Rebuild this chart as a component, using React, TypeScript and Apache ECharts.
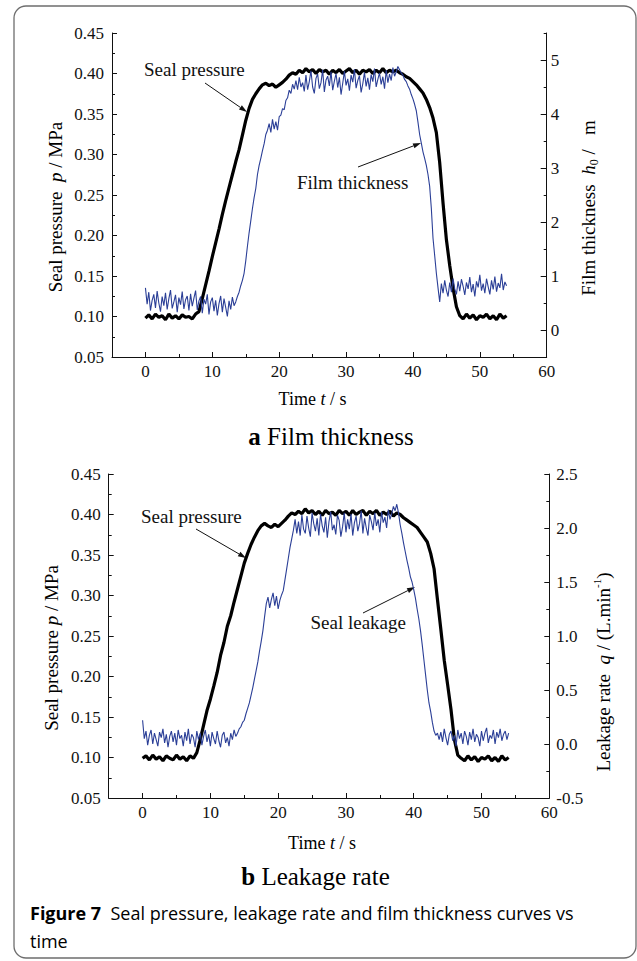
import React, { useEffect, useRef } from 'react';
import * as echarts from 'echarts';

// ---------- data ----------
// time axis for the seal-pressure curves (s)
const time = [
  0, 0.5, 1, 1.5, 2, 2.5, 3, 3.5, 4, 4.5, 5, 5.5, 6, 6.5, 7, 7.5, 8, 8.5, 9, 9.5,
  10, 10.5, 11, 11.5, 12, 12.5, 13, 13.5, 14, 14.5, 15, 15.5, 16, 16.5, 17, 17.5, 18, 18.5, 19, 19.5,
  20, 20.5, 21, 21.5, 22, 22.5, 23, 23.5, 24, 24.5, 25, 25.5, 26, 26.5, 27, 27.5, 28, 28.5, 29, 29.5,
  30, 30.5, 31, 31.5, 32, 32.5, 33, 33.5, 34, 34.5, 35, 35.5, 36, 36.5, 37, 37.5, 38, 38.5, 39, 39.5,
  40, 40.5, 41, 41.5, 42, 42.5, 43, 43.5, 44, 44.5, 45, 45.5, 46, 46.5, 47, 47.5, 48, 48.5, 49, 49.5,
  50, 50.5, 51, 51.5, 52, 52.5, 53, 53.5, 54,
];

// finer time axis for the (noisier) film-thickness and leakage curves (s)
const timeFine = [
  0, 0.25, 0.5, 0.75, 1, 1.25, 1.5, 1.75, 2, 2.25, 2.5, 2.75, 3, 3.25, 3.5, 3.75, 4, 4.25, 4.5, 4.75,
  5, 5.25, 5.5, 5.75, 6, 6.25, 6.5, 6.75, 7, 7.25, 7.5, 7.75, 8, 8.25, 8.5, 8.75, 9, 9.25, 9.5, 9.75,
  10, 10.25, 10.5, 10.75, 11, 11.25, 11.5, 11.75, 12, 12.25, 12.5, 12.75, 13, 13.25, 13.5, 13.75, 14, 14.25, 14.5, 14.75,
  15, 15.25, 15.5, 15.75, 16, 16.25, 16.5, 16.75, 17, 17.25, 17.5, 17.75, 18, 18.25, 18.5, 18.75, 19, 19.25, 19.5, 19.75,
  20, 20.25, 20.5, 20.75, 21, 21.25, 21.5, 21.75, 22, 22.25, 22.5, 22.75, 23, 23.25, 23.5, 23.75, 24, 24.25, 24.5, 24.75,
  25, 25.25, 25.5, 25.75, 26, 26.25, 26.5, 26.75, 27, 27.25, 27.5, 27.75, 28, 28.25, 28.5, 28.75, 29, 29.25, 29.5, 29.75,
  30, 30.25, 30.5, 30.75, 31, 31.25, 31.5, 31.75, 32, 32.25, 32.5, 32.75, 33, 33.25, 33.5, 33.75, 34, 34.25, 34.5, 34.75,
  35, 35.25, 35.5, 35.75, 36, 36.25, 36.5, 36.75, 37, 37.25, 37.5, 37.75, 38, 38.25, 38.5, 38.75, 39, 39.25, 39.5, 39.75,
  40, 40.25, 40.5, 40.75, 41, 41.25, 41.5, 41.75, 42, 42.25, 42.5, 42.75, 43, 43.25, 43.5, 43.75, 44, 44.25, 44.5, 44.75,
  45, 45.25, 45.5, 45.75, 46, 46.25, 46.5, 46.75, 47, 47.25, 47.5, 47.75, 48, 48.25, 48.5, 48.75, 49, 49.25, 49.5, 49.75,
  50, 50.25, 50.5, 50.75, 51, 51.25, 51.5, 51.75, 52, 52.25, 52.5, 52.75, 53, 53.25, 53.5, 53.75, 54,
];

// (a) seal pressure, MPa (on `time`)
const sealPressureA = [
  0.098, 0.102, 0.097, 0.103, 0.099, 0.101, 0.096, 0.103, 0.098, 0.101, 0.097, 0.102, 0.099, 0.100, 0.097, 0.103,
  0.106, 0.122, 0.139, 0.156, 0.174, 0.191, 0.208, 0.226, 0.243, 0.259, 0.275, 0.291, 0.306, 0.324, 0.342, 0.357, 0.368, 0.375,
  0.381, 0.386, 0.388, 0.385, 0.387, 0.383, 0.386, 0.389, 0.393, 0.398, 0.401, 0.399, 0.404, 0.401,
  0.406, 0.402, 0.405, 0.400, 0.405, 0.402, 0.404, 0.399, 0.404, 0.401, 0.405, 0.400, 0.403, 0.406, 0.401,
  0.404, 0.399, 0.404, 0.402, 0.405, 0.400, 0.404, 0.401, 0.406, 0.401, 0.404, 0.402, 0.404, 0.401,
  0.399, 0.396, 0.394, 0.390, 0.386, 0.381, 0.376, 0.368, 0.358, 0.345, 0.327, 0.290, 0.240, 0.195, 0.163, 0.135, 0.112,
  0.101, 0.097, 0.103, 0.098, 0.102, 0.096, 0.101, 0.099, 0.103, 0.097, 0.101, 0.096, 0.103, 0.098, 0.101,
];

// (a) film thickness h0, um (on `timeFine`)
const filmThickness = [
  0.78, 0.48, 0.70, 0.36, 0.55, 0.66, 0.41, 0.72, 0.50, 0.34, 0.62, 0.45, 0.69, 0.38,
  0.58, 0.74, 0.40, 0.52, 0.65, 0.33, 0.60, 0.47, 0.71, 0.39, 0.56, 0.63, 0.36, 0.67,
  0.44, 0.59, 0.73, 0.37, 0.54, 0.62, 0.31, 0.57, 0.48, 0.66, 0.29, 0.52, 0.60, 0.35,
  0.55, 0.27, 0.49, 0.63, 0.33, 0.58, 0.42, 0.25, 0.54, 0.38, 0.61, 0.45,
  0.52, 0.62, 0.70, 0.82, 0.92, 1.05, 1.28, 1.55, 1.80, 2.02, 2.25, 2.45, 2.62, 2.88, 3.05, 3.18,
  3.32, 3.45, 3.62, 3.70, 3.82, 3.66, 3.90, 3.72, 3.86, 3.70, 3.95, 3.98, 4.10, 4.08, 4.25, 4.30,
  4.44, 4.38, 4.55, 4.46, 4.62, 4.45, 4.68, 4.50, 4.58, 4.42,
  4.72, 4.45, 4.60, 4.80, 4.50, 4.38, 4.66, 4.74, 4.47, 4.58, 4.82, 4.41, 4.63, 4.70, 4.52, 4.78,
  4.44, 4.61, 4.75, 4.49, 4.68, 4.36, 4.57, 4.79, 4.53, 4.65, 4.43, 4.72, 4.59, 4.83, 4.48, 4.62,
  4.71, 4.40, 4.56, 4.77, 4.51, 4.67, 4.45, 4.73, 4.60, 4.84, 4.50, 4.64, 4.76, 4.55, 4.69, 4.47,
  4.81, 4.58, 4.74, 4.62, 4.86, 4.70, 4.78, 4.88,
  4.82, 4.76, 4.72, 4.64, 4.60, 4.52, 4.46, 4.36, 4.28, 4.18, 4.06, 3.85, 3.62, 3.46, 3.30, 3.18,
  3.05, 2.88, 2.66, 2.25, 1.70, 1.38, 1.05, 0.78, 0.52, 0.86, 0.68, 0.92, 0.74, 0.62, 0.88, 0.70,
  0.95, 0.76, 0.66, 0.90,
  0.72, 0.94, 0.81, 0.65, 0.88, 0.76, 0.98, 0.70, 0.85, 0.62, 0.90, 0.79, 1.02, 0.73, 0.86, 0.68,
  0.95, 0.80, 0.66, 0.92, 0.75, 0.99, 0.71, 0.87, 0.78, 1.04, 0.74, 0.89, 0.82,
];

// (b) seal pressure, MPa (on `time`)
const sealPressureB = [
  0.099, 0.102, 0.097, 0.103, 0.098, 0.101, 0.096, 0.102, 0.099, 0.097, 0.103, 0.098, 0.101, 0.096, 0.102, 0.099,
  0.106, 0.122, 0.140, 0.158, 0.172, 0.188, 0.205, 0.226, 0.242, 0.262, 0.275, 0.292, 0.308, 0.324, 0.340, 0.352, 0.363, 0.372,
  0.380, 0.386, 0.389, 0.386, 0.384, 0.388, 0.385, 0.389, 0.393, 0.398, 0.402, 0.400, 0.404, 0.401,
  0.407, 0.402, 0.405, 0.400, 0.404, 0.399, 0.405, 0.401, 0.403, 0.399, 0.405, 0.401, 0.404, 0.399, 0.405,
  0.400, 0.403, 0.405, 0.399, 0.404, 0.401, 0.405, 0.399, 0.403, 0.400, 0.404, 0.398, 0.402, 0.400,
  0.396, 0.393, 0.390, 0.387, 0.384, 0.378, 0.372, 0.366, 0.352, 0.333, 0.295, 0.258, 0.220, 0.190, 0.159, 0.122, 0.103,
  0.099, 0.096, 0.102, 0.097, 0.101, 0.095, 0.100, 0.098, 0.102, 0.096, 0.100, 0.095, 0.102, 0.097, 0.100,
];

// (b) leakage rate q, L/min (on `timeFine`)
const leakageRate = [
  0.22, 0.05, 0.12, -0.01, 0.08, 0.13, 0.00, 0.10, 0.04, -0.02, 0.11, 0.06, 0.14, 0.01,
  0.09, -0.03, 0.07, 0.12, 0.02, 0.10, -0.01, 0.13, 0.05, 0.08, -0.02, 0.11, 0.03, 0.14,
  0.00, 0.09, 0.06, -0.03, 0.12, 0.04, 0.10, -0.01, 0.07, 0.13, 0.02, 0.09, -0.02, 0.11,
  0.05, 0.00, 0.12, 0.03, -0.03, 0.08, 0.11, 0.01, 0.06, -0.02, 0.10, 0.04, 0.13, 0.07,
  0.10, 0.14, 0.16, 0.20, 0.22, 0.28, 0.33, 0.38, 0.45, 0.52, 0.60, 0.68, 0.76, 0.86, 0.95, 1.05,
  1.18, 1.30, 1.36, 1.26, 1.34, 1.40, 1.28, 1.37, 1.25, 1.33, 1.38, 1.42, 1.52, 1.62, 1.72, 1.82,
  1.90, 1.98, 2.08, 1.95, 2.06, 1.93, 2.12, 1.99,
  1.95, 2.11, 2.00, 1.92, 2.14, 2.04, 1.97, 2.09, 1.93, 2.13, 2.02, 1.96, 2.10, 1.91, 2.06, 2.15,
  1.98, 2.03, 1.94, 2.12, 2.07, 1.92, 2.01, 2.14, 1.96, 2.08, 1.99, 2.13, 1.93, 2.05, 2.11, 1.97,
  2.04, 2.16, 1.95, 2.09, 2.00, 1.93, 2.12, 2.06, 1.98, 2.14, 2.02, 2.08, 1.96, 2.15, 2.05, 2.10,
  2.00, 2.17, 2.08, 2.13, 2.20, 2.16, 2.22, 2.14,
  2.03, 1.95, 1.86, 1.78, 1.70, 1.63, 1.55, 1.50, 1.43, 1.35, 1.25, 1.16, 1.05, 0.92, 0.78, 0.64,
  0.50, 0.38, 0.30, 0.20, 0.12, 0.08, 0.10, 0.04,
  0.11, 0.02, 0.14, 0.06, -0.01, 0.09, 0.12, 0.03, 0.08, -0.02, 0.13, 0.05, 0.10, 0.00, 0.12, 0.07,
  -0.01, 0.11, 0.04, 0.14, 0.02, 0.09, 0.06, -0.02, 0.12, 0.03, 0.10, 0.15, 0.01, 0.08, 0.05, 0.13,
  0.00, 0.11, 0.06, 0.14, 0.03, 0.09, 0.12, 0.04, 0.10,
];

const timeTickLabels = [0, 10, 20, 30, 40, 50, 60];
const filmTickLabels = [0, 1, 2, 3, 4, 5];

// ---------- styling ----------
const SERIF = 'Liberation Serif, Times New Roman, serif';
const SANS = 'Open Sans, Noto Sans, sans-serif';
const BLUE = '#2b3f97';
const INK = '#111';

function arrow(x1: number, y1: number, x2: number, y2: number) {
  const dx = x2 - x1;
  const dy = y2 - y1;
  const len = Math.hypot(dx, dy);
  const ux = dx / len;
  const uy = dy / len;
  const hl = 8;
  const hw = 2.6;
  const bx = x2 - ux * hl;
  const by = y2 - uy * hl;
  return [
    { type: 'line', silent: true, shape: { x1, y1, x2: bx, y2: by }, style: { stroke: INK, lineWidth: 1 } },
    {
      type: 'polygon',
      silent: true,
      shape: { points: [[x2, y2], [bx - uy * hw, by + ux * hw], [bx + uy * hw, by - ux * hw]] },
      style: { fill: INK },
    },
  ];
}

const isInt = (v: number) => Math.abs(v - Math.round(v)) < 1e-6;

function mainX(gridIndex: number) {
  return {
    gridIndex,
    type: 'value',
    min: -5,
    max: 60,
    interval: 5,
    axisLine: { show: true, onZero: false, lineStyle: { color: INK, width: 1 } },
    axisTick: { show: true, inside: true, length: 3, lineStyle: { color: INK } },
    axisLabel: {
      formatter: (v: number) => (v >= 0 && isInt(v / 10) ? String(Math.round(v)) : ''),
      fontFamily: SERIF,
      fontSize: 17,
      color: INK,
      margin: 6,
    },
    splitLine: { show: false },
  };
}

function helperX(gridIndex: number) {
  return {
    gridIndex,
    type: 'value',
    position: 'bottom',
    min: -5,
    max: 60,
    axisLine: { show: false, onZero: false },
    axisTick: { show: true, inside: true, length: 5, customValues: timeTickLabels, lineStyle: { color: INK } },
    axisLabel: { show: false },
    splitLine: { show: false },
  };
}

function pressureY(gridIndex: number) {
  return {
    gridIndex,
    type: 'value',
    position: 'left',
    min: 0.05,
    max: 0.45,
    interval: 0.05,
    axisLine: { show: true, onZero: false, lineStyle: { color: INK, width: 1 } },
    axisTick: { show: true, inside: true, length: 5, lineStyle: { color: INK } },
    minorTick: { show: true, splitNumber: 2, length: 3, lineStyle: { color: INK } },
    axisLabel: { formatter: (v: number) => v.toFixed(2), fontFamily: SERIF, fontSize: 17, color: INK, margin: 8 },
    splitLine: { show: false },
    minorSplitLine: { show: false },
  };
}

export default function App() {
  const ref = useRef<HTMLDivElement>(null);

  useEffect(() => {
    if (!ref.current) return;
    const chart = echarts.init(ref.current, undefined, { renderer: 'svg' });

    const titleRich = {
      n: { fontFamily: SERIF, fontSize: 19, color: INK, lineHeight: 24 },
      i: { fontFamily: SERIF, fontSize: 19, fontStyle: 'italic', color: INK, lineHeight: 24 },
      sub: { fontFamily: SERIF, fontSize: 12, color: INK, lineHeight: 12, verticalAlign: 'bottom' },
      sup: { fontFamily: SERIF, fontSize: 11, color: INK, lineHeight: 12, verticalAlign: 'top' },
    };

    const rotText = (x: number, y: number, text: string) => ({
      type: 'text',
      silent: true,
      x,
      y,
      rotation: Math.PI / 2,
      style: { text, rich: titleRich, align: 'center', verticalAlign: 'middle', textAlign: 'center', textVerticalAlign: 'middle' },
    });

    const plainText = (x: number, y: number, text: string, size = 19, align = 'left') => ({
      type: 'text',
      silent: true,
      x,
      y,
      style: {
        text,
        fontFamily: SERIF,
        fontSize: size,
        fill: INK,
        align,
        verticalAlign: 'middle',
        textAlign: align,
        textVerticalAlign: 'middle',
      },
    });

    const richText = (x: number, y: number, text: string, rich: any, align = 'center') => ({
      type: 'text',
      silent: true,
      x,
      y,
      style: { text, rich, align, verticalAlign: 'middle', textAlign: align, textVerticalAlign: 'middle' },
    });

    const subRich = {
      b: { fontFamily: SERIF, fontSize: 25, fontWeight: 'bold', color: INK },
      n: { fontFamily: SERIF, fontSize: 25, color: INK },
    };
    const timeRich = {
      n: { fontFamily: SERIF, fontSize: 18, color: INK },
      i: { fontFamily: SERIF, fontSize: 18, fontStyle: 'italic', color: INK },
    };
    const capRich = {
      b: { fontFamily: SANS, fontSize: 18, fontWeight: 'bold', color: '#231f20' },
      n: { fontFamily: SANS, fontSize: 18, color: '#3a3a3a' },
    };

    const option: any = {
      animation: false,
      backgroundColor: '#fff',
      grid: [
        { left: 112, top: 33, width: 434.7, height: 324, containLabel: false },
        { left: 108.7, top: 474, width: 440.6, height: 324, containLabel: false },
      ],
      xAxis: [mainX(0), helperX(0), mainX(1), helperX(1)],
      yAxis: [
        pressureY(0),
        {
          gridIndex: 0,
          type: 'value',
          position: 'right',
          min: -0.5,
          max: 5.5,
          interval: 0.5,
          axisLine: { show: true, onZero: false, lineStyle: { color: INK, width: 1 } },
          axisTick: { show: true, inside: true, length: 3, lineStyle: { color: INK } },
          axisLabel: {
            formatter: (v: number) => (isInt(v) ? String(Math.round(v)) : ''),
            fontFamily: SERIF,
            fontSize: 17,
            color: INK,
            margin: 4,
          },
          splitLine: { show: false },
        },
        {
          gridIndex: 0,
          type: 'value',
          position: 'right',
          min: -0.5,
          max: 5.5,
          axisLine: { show: false, onZero: false },
          axisTick: { show: true, inside: true, length: 6, customValues: filmTickLabels, lineStyle: { color: INK } },
          axisLabel: { show: false },
          splitLine: { show: false },
        },
        pressureY(1),
        {
          gridIndex: 1,
          type: 'value',
          position: 'right',
          min: -0.5,
          max: 2.5,
          interval: 0.5,
          axisLine: { show: true, onZero: false, lineStyle: { color: INK, width: 1 } },
          axisTick: { show: true, inside: true, length: 5, lineStyle: { color: INK } },
          minorTick: { show: true, splitNumber: 2, length: 3, lineStyle: { color: INK } },
          axisLabel: { formatter: (v: number) => v.toFixed(1), fontFamily: SERIF, fontSize: 17, color: INK, margin: 7 },
          splitLine: { show: false },
          minorSplitLine: { show: false },
        },
      ],
      series: [
        {
          name: 'Seal pressure (a)',
          type: 'line',
          xAxisIndex: 0,
          yAxisIndex: 0,
          data: time.map((t, i) => [t, sealPressureA[i]]),
          showSymbol: false,
          silent: true,
          lineStyle: { color: '#000', width: 3.2 },
          itemStyle: { color: '#000' },
          z: 2,
        },
        {
          name: 'Film thickness',
          type: 'line',
          xAxisIndex: 0,
          yAxisIndex: 1,
          data: timeFine.map((t, i) => [t, filmThickness[i]]),
          showSymbol: false,
          silent: true,
          lineStyle: { color: BLUE, width: 1.1 },
          itemStyle: { color: BLUE },
          z: 3,
        },
        {
          name: 'Seal pressure (b)',
          type: 'line',
          xAxisIndex: 2,
          yAxisIndex: 3,
          data: time.map((t, i) => [t, sealPressureB[i]]),
          showSymbol: false,
          silent: true,
          lineStyle: { color: '#000', width: 3.2 },
          itemStyle: { color: '#000' },
          z: 2,
        },
        {
          name: 'Seal leakage',
          type: 'line',
          xAxisIndex: 2,
          yAxisIndex: 4,
          data: timeFine.map((t, i) => [t, leakageRate[i]]),
          showSymbol: false,
          silent: true,
          lineStyle: { color: BLUE, width: 1.1 },
          itemStyle: { color: BLUE },
          z: 3,
        },
      ],
      graphic: [
        {
          type: 'rect',
          silent: true,
          shape: { x: 14, y: 6, width: 622, height: 952, r: 12 },
          style: { fill: 'none', stroke: '#6e6e6e', lineWidth: 1.3 },
          z: -1,
        },
        // axis titles
        rotText(55, 207, '{n|Seal pressure  }{i|p}{n| / MPa}'),
        rotText(588, 208, '{n|Film thickness  }{i|h}{sub|0}{n| /   m}'),
        rotText(51, 648, '{n|Seal pressure }{i|p}{n| / MPa}'),
        rotText(603, 672, '{n|Leakage rate  }{i|q}{n| / (L.min}{sup|-1}{n|)}'),
        richText(312.5, 399, '{n|Time }{i|t}{n| / s}', timeRich),
        richText(322, 843, '{n|Time }{i|t}{n| / s}', timeRich),
        // sub-figure labels
        richText(331, 436.5, '{b|a }{n|Film thickness}', subRich),
        richText(315.5, 876.5, '{b|b }{n|Leakage rate}', subRich),
        // annotations
        plainText(144, 69, 'Seal pressure'),
        ...arrow(205, 83, 247, 112),
        plainText(297, 182, 'Film thickness'),
        ...arrow(358, 167, 421, 143),
        plainText(141, 516, 'Seal pressure'),
        ...arrow(196, 529, 246, 558),
        plainText(406, 622, 'Seal leakage', 19, 'right'),
        ...arrow(363, 613, 415, 587),
        // caption
        richText(30, 913, '{b|Figure 7}{n|  Seal pressure, leakage rate and film thickness curves vs}', capRich, 'left'),
        richText(30, 941, '{n|time}', capRich, 'left'),
      ],
    };

    chart.setOption(option);
    return () => {
      chart.dispose();
    };
  }, []);

  return (
    <div
      ref={ref}
      style={{ position: 'absolute', left: 0, top: 0, width: 637, height: 961, background: '#fff' }}
    />
  );
}
